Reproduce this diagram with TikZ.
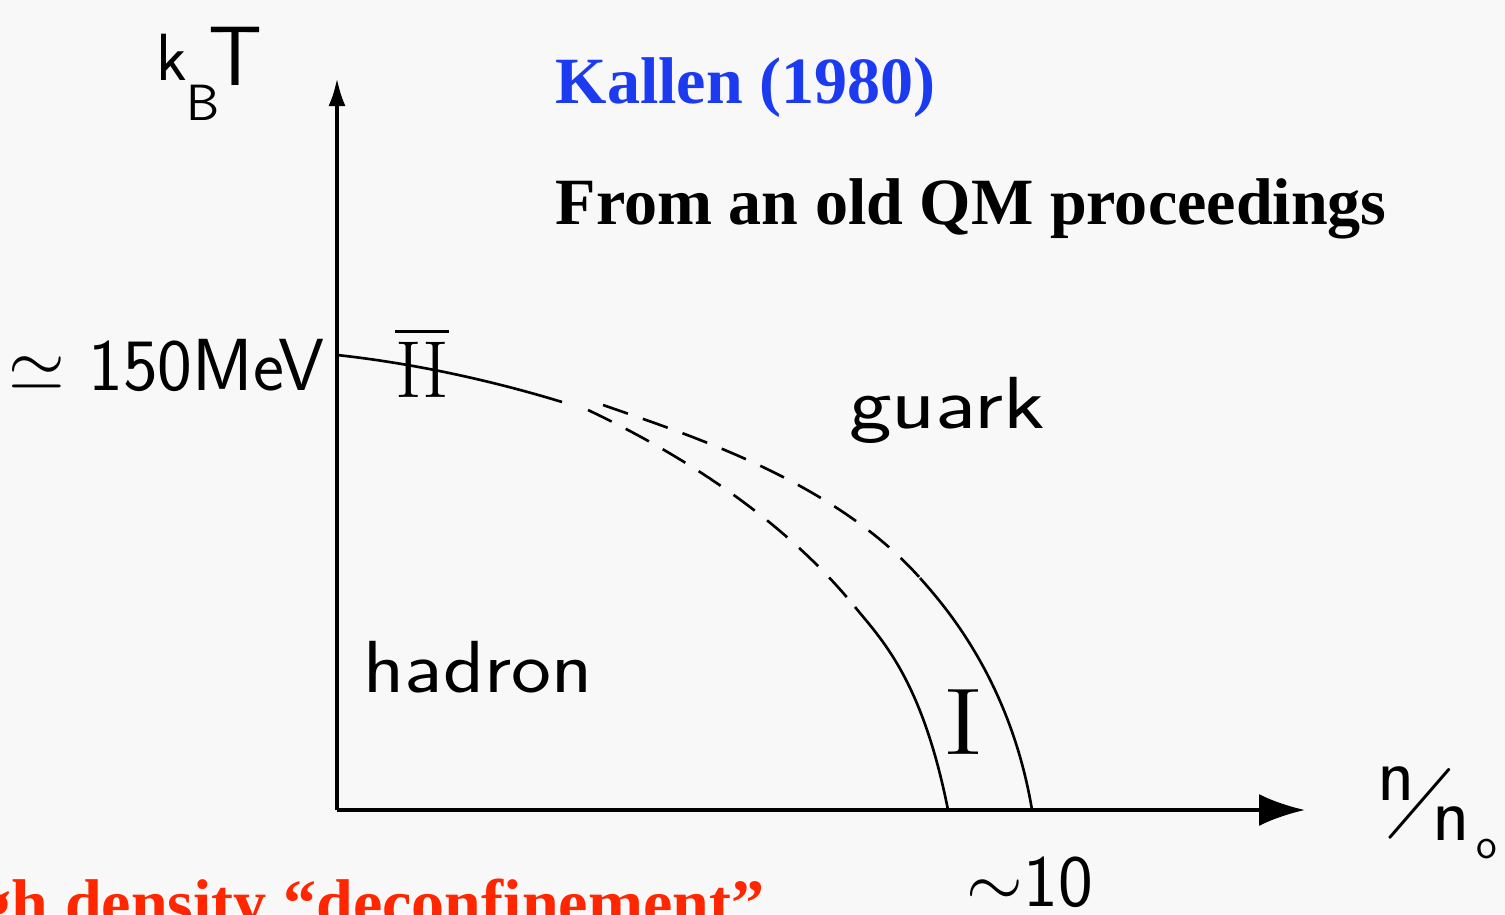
\documentclass[tikz,border=0pt]{standalone}
\usepackage{fontspec}
\usepackage{amsmath,amssymb}
\usetikzlibrary{arrows.meta,positioning}
\newfontfamily\slidefont{Liberation Serif}
\definecolor{kblue}{RGB}{28,58,240}
\definecolor{kred}{RGB}{255,38,0}
\definecolor{paper}{RGB}{248,248,248}

\begin{document}
\begin{tikzpicture}[
    hand/.style={font=\sffamily\fontsize{#1}{#1}\selectfont, inner sep=0pt},
    hand/.default=21,
    slide/.style={font=\slidefont\bfseries\fontsize{18.8}{18.8}\selectfont, inner sep=0pt},
    axis/.style={line width=1.1pt},
    border/.style={line width=0.75pt},
    brokenborder/.style={border, dash pattern=on 7.5pt off 4.5pt}]
    \useasboundingbox (0,0) rectangle (15.05,9.14);
    \clip (0,0) rectangle (15.05,9.14);
    \fill[paper] (0,0) rectangle (15.05,9.14);

    \coordinate (O) at (3.37,1.04);
    \coordinate (Ttop) at (3.37,8.36);
    \coordinate (nend) at (13.05,1.04);
    \draw[axis, -{Latex[length=2.8mm,width=1.7mm]}] (O)--(Ttop);
    \draw[axis, -{Latex[length=4.6mm,width=3.2mm]}] (O)--(nend);

    % line II
    \coordinate (a0) at (3.37,5.59);
    \coordinate (a1) at (5.62,5.12);
    \draw[border] (a0) .. controls (4.20,5.50) and (5.00,5.31) .. (a1);

    % line I, inner and outer
    \coordinate (i0) at (5.88,5.04);
    \coordinate (i1) at (8.55,3.07);
    \coordinate (i2) at (9.48,1.04);
    \draw[brokenborder] (i0) .. controls (6.66,4.67) and (7.77,4.03) .. (i1);
    \draw[border] (i1) .. controls (8.81,2.75) and (9.22,2.35) .. (i2);

    \coordinate (o0) at (6.03,5.09);
    \coordinate (o1) at (9.20,3.36);
    \coordinate (o2) at (10.32,1.04);
    \draw[brokenborder] (o0) .. controls (6.89,4.79) and (8.34,4.33) .. (o1);
    \draw[border] (o1) .. controls (9.42,3.11) and (10.10,2.36) .. (o2);

    \node[hand=19, anchor=base] (kk) at (1.72,8.34) {k};
    \node[hand=14.5, anchor=base] (kb) at (2.03,7.94) {B};
    \node[hand=24, anchor=base] (kt) at (2.36,8.29) {T};
    \node[hand, anchor=base east] (tc) at (3.25,5.24) {$\simeq$ 150MeV};
    \node[hand=23] (two) at (4.22,5.52) {$\overline{\mathrm{II}}$};
    \node[hand=27] (one) at (9.63,1.92) {\scalebox{1.35}[1]{$\mathrm{I}$}};
    \node[hand, anchor=base] (quark) at (9.47,4.86) {\scalebox{1.23}[1]{guark}};
    \node[hand, anchor=base] (hadron) at (4.78,2.22) {\scalebox{1.15}[1]{hadron}};
    \node[hand, anchor=base] (ten) at (10.30,0.08) {$\sim$10};

    \node[hand=22, anchor=base] (nnum) at (13.96,1.14) {n};
    \node[hand=25, rotate=-22] (bar) at (14.20,1.10) {/};
    \node[hand=22, anchor=base] (nden) at (14.51,0.74) {n};
    \node[hand=12, anchor=base] (zero) at (14.87,0.56) {o};

    \node[slide, text=kblue, anchor=base west] (who) at (5.55,8.11) {Kallen (1980)};
    \node[slide, anchor=base west] (src) at (5.55,6.90) {From an old QM proceedings};
    \node[slide, text=kred, anchor=base east] (dense) at (7.65,-0.11) {High density “deconfinement”};
\end{tikzpicture}
\end{document}
